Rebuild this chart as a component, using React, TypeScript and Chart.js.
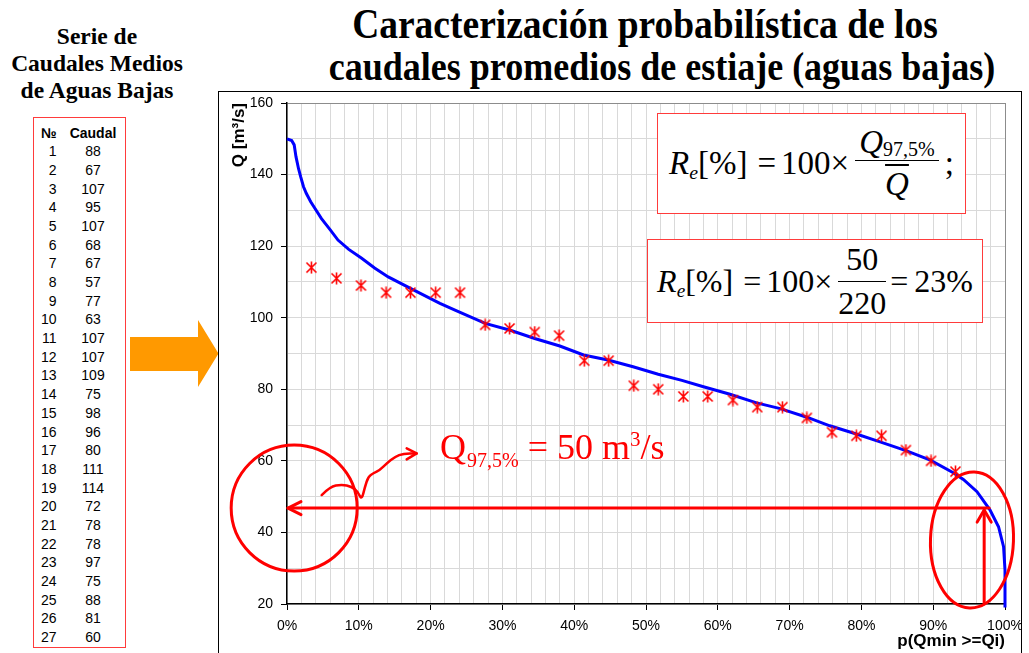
import React, { useEffect, useRef } from 'react';
import { Chart, registerables } from 'chart.js';

Chart.register(...registerables);

// ---------- DATA ----------
const tableNumbers = [1, 2, 3, 4, 5, 6, 7, 8, 9, 10, 11, 12, 13, 14, 15, 16, 17, 18, 19, 20, 21, 22, 23, 24, 25, 26, 27];
const tableCaudales = [88, 67, 107, 95, 107, 68, 67, 57, 77, 63, 107, 107, 109, 75, 98, 96, 80, 111, 114, 72, 78, 78, 97, 75, 88, 81, 60];

// empirical (ranked) points
const empiricalP = [3.4, 6.9, 10.3, 13.8, 17.2, 20.7, 24.1, 27.6, 31.0, 34.5, 37.9, 41.4, 44.8, 48.3, 51.7, 55.2, 58.6, 62.1, 65.5, 69.0, 72.4, 75.9, 79.3, 82.8, 86.2, 89.7, 93.1];
const empiricalQ = [114, 111, 109, 107, 107, 107, 107, 98, 97, 96, 95, 88, 88, 81, 80, 78, 78, 77, 75, 75, 72, 68, 67, 67, 63, 60, 57];

// fitted probability curve
const curveP = [0, 0.65, 1.0, 1.25, 1.6, 1.9, 2.3, 2.7, 3.3, 3.9, 4.8, 6.0, 7.1, 8.6, 10.4, 12.2, 14.1, 17.4, 21.3, 23.4, 27.6, 31.1, 34.5, 38.0, 41.3, 44.7, 48.2, 51.7, 55.0, 58.0, 61.7, 65.4, 68.7, 72.4, 75.6, 79.3, 82.6, 86.3, 89.6, 92.8, 94.2, 96.1, 97.9, 99.1, 99.8, 100, 100];
const curveQ = [150, 149.5, 148.3, 145, 141.7, 139.4, 136.6, 134.7, 132.4, 130.5, 127.7, 124.6, 121.7, 119.1, 116.6, 113.9, 111.4, 108, 104, 102.1, 98.4, 96.5, 94.2, 92.1, 89.6, 88.2, 86.3, 84.2, 82.5, 80.7, 78.6, 76.2, 74.6, 72.2, 69.8, 67.5, 65.3, 62.8, 60.2, 56.7, 54.8, 51.4, 46.3, 41.6, 36, 29.5, 19];

const xTickValues = [0, 10, 20, 30, 40, 50, 60, 70, 80, 90, 100];
const yTickValues = [20, 40, 60, 80, 100, 120, 140, 160];

// annotation (data coordinates)
const qLine = 46.8;
const pLine = 97.1;
const hArrowEndP = 97.8;
const circleP = 1.0;
const circleQ = 46.8;
const ellipseP = 95.4;
const ellipseQ = 37.9;
const squiggleP = [4.83, 5.99, 7.62, 9.01, 9.89, 10.4, 10.86, 11.32, 12.02, 12.95, 13.89, 15.04, 16.2, 18.06];
const squiggleQ = [50.45, 52.77, 53.44, 52.77, 51.37, 49.05, 52.77, 55.56, 56.51, 57.43, 59.3, 61.15, 62.09, 62.09];
const squiggleHeadP = [16.67, 18.06, 16.67];
const squiggleHeadQ = [63.49, 62.09, 60.42];

const serif = '"Liberation Serif", "Times New Roman", Times, serif';
const sans = '"Liberation Sans", Arial, Helvetica, sans-serif';

function makeStar(): HTMLCanvasElement {
  const c = document.createElement('canvas');
  c.width = 13;
  c.height = 13;
  const g = c.getContext('2d')!;
  g.strokeStyle = '#ff0000';
  g.lineWidth = 1.6;
  g.beginPath();
  g.moveTo(1.5, 1.5); g.lineTo(11.5, 11.5);
  g.moveTo(11.5, 1.5); g.lineTo(1.5, 11.5);
  g.moveTo(6.5, 0.5); g.lineTo(6.5, 12.5);
  g.stroke();
  return c;
}

const annotPlugin = {
  id: 'annot',
  afterDatasetsDraw(chart: any) {
    const { ctx, scales } = chart;
    const x = scales.x;
    const y = scales.y;
    const px = (p: number) => x.getPixelForValue(p);
    const py = (q: number) => y.getPixelForValue(q);
    ctx.save();
    ctx.strokeStyle = '#ff0000';
    ctx.lineWidth = 3;
    ctx.lineCap = 'round';
    ctx.lineJoin = 'round';
    const yq = py(qLine);
    const x0 = px(0);
    // horizontal arrow
    ctx.beginPath();
    ctx.moveTo(px(hArrowEndP), yq);
    ctx.lineTo(x0 + 1, yq);
    ctx.stroke();
    ctx.beginPath();
    ctx.moveTo(x0 + 14, yq - 6.5);
    ctx.lineTo(x0 + 1, yq);
    ctx.lineTo(x0 + 14, yq + 6.5);
    ctx.stroke();
    // vertical arrow
    const xv = px(pLine);
    ctx.beginPath();
    ctx.moveTo(xv, py(20));
    ctx.lineTo(xv, yq + 2);
    ctx.stroke();
    ctx.beginPath();
    ctx.moveTo(xv - 7, yq + 14);
    ctx.lineTo(xv, yq + 2);
    ctx.lineTo(xv + 7, yq + 14);
    ctx.stroke();
    // circle and ellipse
    ctx.beginPath();
    ctx.arc(px(circleP), py(circleQ), 63, 0, Math.PI * 2);
    ctx.stroke();
    ctx.beginPath();
    ctx.ellipse(px(ellipseP), py(ellipseQ), 41.5, 68, (2 * Math.PI) / 180, 0, Math.PI * 2);
    ctx.stroke();
    // squiggle
    const pts = squiggleP.map((p, i) => [px(p), py(squiggleQ[i])]);
    ctx.lineWidth = 2.5;
    ctx.beginPath();
    ctx.moveTo(pts[0][0], pts[0][1]);
    for (let i = 1; i < pts.length - 1; i++) {
      const mx = (pts[i][0] + pts[i + 1][0]) / 2;
      const my = (pts[i][1] + pts[i + 1][1]) / 2;
      ctx.quadraticCurveTo(pts[i][0], pts[i][1], mx, my);
    }
    ctx.lineTo(pts[pts.length - 1][0], pts[pts.length - 1][1]);
    ctx.stroke();
    ctx.beginPath();
    squiggleHeadP.forEach((p, i) => {
      const X = px(p);
      const Y = py(squiggleHeadQ[i]);
      if (i === 0) ctx.moveTo(X, Y);
      else ctx.lineTo(X, Y);
    });
    ctx.stroke();
    ctx.restore();
  },
};

function ChartCanvas() {
  const ref = useRef<HTMLCanvasElement | null>(null);
  useEffect(() => {
    if (!ref.current) return;
    const star = makeStar();
    const chart = new Chart(ref.current, {
      type: 'scatter',
      data: {
        datasets: [
          {
            label: 'Caudales observados',
            data: empiricalP.map((p, i) => ({ x: p, y: empiricalQ[i] })),
            pointStyle: star as any,
            pointRadius: 6,
            showLine: false,
            order: 0,
          },
          {
            label: 'Curva de probabilidad',
            data: curveP.map((p, i) => ({ x: p, y: curveQ[i] })),
            showLine: true,
            borderColor: '#0000ff',
            borderWidth: 3,
            pointRadius: 0,
            tension: 0,
            clip: false as any,
            order: 1,
          },
        ],
      },
      options: {
        animation: false,
        responsive: false,
        events: [],
        layout: { padding: { left: 0, right: 16, top: 11, bottom: 0 } },
        plugins: { legend: { display: false }, tooltip: { enabled: false } },
        scales: {
          x: {
            type: 'linear',
            min: 0,
            max: 100,
            afterFit: (s: any) => {
              s.height = 49;
              s.paddingLeft = 0;
              s.paddingRight = 0;
            },
            ticks: {
              stepSize: 2,
              autoSkip: false,
              maxRotation: 0,
              padding: 8,
              color: '#000',
              font: { family: sans, size: 14 },
              callback: (v: any) => (xTickValues.includes(Math.round(Number(v))) && Math.abs(Number(v) - Math.round(Number(v))) < 1e-6 ? Math.round(Number(v)) + '%' : ''),
            },
            grid: {
              color: (c: any) => (c.tick && Math.round(c.tick.value) === 100 ? '#8c8c8c' : '#d9d9d9'),
              lineWidth: 1,
              tickLength: 6,
              tickColor: (c: any) => (c.tick && xTickValues.includes(Math.round(c.tick.value)) ? '#000' : 'rgba(0,0,0,0)'),
            },
            border: { color: '#000', width: 1.5 },
            title: {
              display: true,
              text: 'p(Qmin >=Qi)',
              align: 'end',
              color: '#000',
              font: { family: sans, size: 17, weight: 'bold' },
              padding: { top: 0, bottom: 1 },
            },
          },
          y: {
            type: 'linear',
            min: 20,
            max: 160,
            afterFit: (s: any) => {
              s.width = 68;
              s.paddingTop = 0;
              s.paddingBottom = 0;
            },
            ticks: {
              stepSize: 10,
              autoSkip: false,
              padding: 8,
              color: '#000',
              font: { family: sans, size: 14 },
              callback: (v: any) => (yTickValues.includes(Math.round(Number(v))) ? String(Math.round(Number(v))) : ''),
            },
            grid: {
              color: (c: any) => (c.tick && Math.round(c.tick.value) === 160 ? '#8c8c8c' : '#d9d9d9'),
              lineWidth: 1,
              tickLength: 6,
              tickColor: (c: any) => (c.tick && yTickValues.includes(Math.round(c.tick.value)) ? '#000' : 'rgba(0,0,0,0)'),
            },
            border: { color: '#000', width: 1.5 },
            title: {
              display: true,
              text: 'Q [m³/s]',
              align: 'end',
              color: '#000',
              font: { family: sans, size: 17, weight: 'bold' },
              padding: { top: 10, bottom: 0 },
            },
          },
        },
      } as any,
      plugins: [annotPlugin],
    });
    return () => chart.destroy();
  }, []);
  return (
    <canvas
      ref={ref}
      width={802}
      height={561}
      style={{ position: 'absolute', left: 219, top: 92, width: 802, height: 561 }}
    />
  );
}

function Frac({ num, den, pad, numMb, denMt }: { num: React.ReactNode; den: React.ReactNode; pad: number; numMb: number; denMt: number }) {
  return (
    <span style={{ display: 'inline-flex', flexDirection: 'column', alignItems: 'center', margin: '0 2px 0 6px' }}>
      <span style={{ lineHeight: '33px', padding: `0 ${pad}px`, marginBottom: numMb, whiteSpace: 'nowrap' }}>{num}</span>
      <span style={{ alignSelf: 'stretch', borderTop: '1.5px solid #000' }} />
      <span style={{ lineHeight: '33px', marginTop: denMt, whiteSpace: 'nowrap' }}>{den}</span>
    </span>
  );
}

function Re({ size }: { size: number }) {
  return (
    <span style={{ lineHeight: '33px', whiteSpace: 'nowrap' }}>
      <i>R</i>
      <span style={{ fontSize: size * 0.6, fontStyle: 'italic', verticalAlign: '-5px', lineHeight: 0 }}>e</span>
      [%]
      <span style={{ margin: '0 5px 0 10px' }}>=</span>
      100×
    </span>
  );
}

export default function App() {
  const titleStyle: React.CSSProperties = {
    position: 'absolute', width: 800, textAlign: 'center', fontFamily: serif, fontWeight: 'bold',
    color: '#000', whiteSpace: 'nowrap', transform: 'scaleY(1.12)', transformOrigin: 'center top',
  };
  return (
    <div style={{ position: 'absolute', left: 0, top: 0, width: 1029, height: 653, overflow: 'hidden', background: '#fff' }}>
      {/* left title */}
      <div
        style={{
          position: 'absolute', left: 0, top: 22.6, width: 194, textAlign: 'center',
          fontFamily: serif, fontWeight: 'bold', fontSize: 23.5, lineHeight: '27px', color: '#000',
        }}
      >
        Serie de<br />Caudales Medios<br />de Aguas Bajas
      </div>

      {/* table */}
      <div
        style={{
          position: 'absolute', left: 33, top: 117, width: 91, height: 529,
          border: '1px solid #ff3b3b', fontFamily: sans, fontSize: 14, color: '#000',
        }}
      >
        <div style={{ position: 'absolute', left: 0, top: 5.5, width: 120 }}>
          <div style={{ display: 'flex', height: 18.7, lineHeight: '18.7px', fontWeight: 'bold' }}>
            <span style={{ width: 22.5, textAlign: 'right' }}>№</span>
            <span style={{ width: 73, textAlign: 'center' }}>Caudal</span>
          </div>
          {tableNumbers.map((n, i) => (
            <div key={n} style={{ display: 'flex', height: 18.7, lineHeight: '18.7px' }}>
              <span style={{ width: 22.5, textAlign: 'right' }}>{n}</span>
              <span style={{ width: 73, textAlign: 'center' }}>{tableCaudales[i]}</span>
            </div>
          ))}
        </div>
      </div>

      {/* orange arrow */}
      <svg style={{ position: 'absolute', left: 0, top: 0 }} width={1029} height={653}>
        <polygon points="130,337 198,337 198,320 218.5,353.5 198,387 198,371 130,371" fill="#ff9900" />
      </svg>

      {/* main title */}
      <div style={{ ...titleStyle, left: 245, top: 3, fontSize: 37.5, lineHeight: '37.5px' }}>
        Caracterización probabilística de los
      </div>
      <div style={{ ...titleStyle, left: 262, top: 46, fontSize: 36, lineHeight: '36px' }}>
        caudales promedios de estiaje (aguas bajas)
      </div>

      {/* chart frame */}
      <div style={{ position: 'absolute', left: 218, top: 91, width: 802, height: 620, border: '1px solid #000' }} />
      <ChartCanvas />

      {/* formula 1 */}
      <div
        style={{
          position: 'absolute', left: 657, top: 113, width: 307, height: 99, border: '1px solid #ff3b3b', background: '#fff',
          display: 'flex', alignItems: 'center', justifyContent: 'center', fontFamily: serif, fontSize: 33, color: '#000', whiteSpace: 'nowrap',
        }}
      >
        <Re size={33} />
        <Frac
          pad={4}
          numMb={1}
          denMt={7}
          num={<><i>Q</i><span style={{ fontSize: 20, verticalAlign: '-3px', lineHeight: 0 }}>97,5%</span></>}
          den={<i style={{ textDecoration: 'overline', textDecorationThickness: '1.5px' }}>Q</i>}
        />
        <span style={{ lineHeight: '33px', marginLeft: 4 }}>;</span>
      </div>

      {/* formula 2 */}
      <div
        style={{
          position: 'absolute', left: 647, top: 239, width: 334, height: 82, border: '1px solid #ff3b3b', background: '#fff',
          display: 'flex', alignItems: 'center', justifyContent: 'center', fontFamily: serif, fontSize: 32, color: '#000', whiteSpace: 'nowrap',
        }}
      >
        <Re size={32} />
        <Frac pad={0} numMb={5} denMt={5} num={<>50</>} den={<>220</>} />
        <span style={{ lineHeight: '33px', marginLeft: 2 }}>
          <span style={{ marginRight: 6 }}>=</span>23%
        </span>
      </div>

      {/* Q97.5% label */}
      <div style={{ position: 'absolute', left: 440, top: 429, fontFamily: serif, fontSize: 36, lineHeight: '36px', color: '#ff0000', whiteSpace: 'nowrap' }}>
        Q<span style={{ fontSize: 20, verticalAlign: '-8px', lineHeight: 0, marginLeft: 1 }}>97,5%</span> = 50 m
        <span style={{ fontSize: 21, verticalAlign: '13px', lineHeight: 0 }}>3</span>/s
      </div>
    </div>
  );
}
